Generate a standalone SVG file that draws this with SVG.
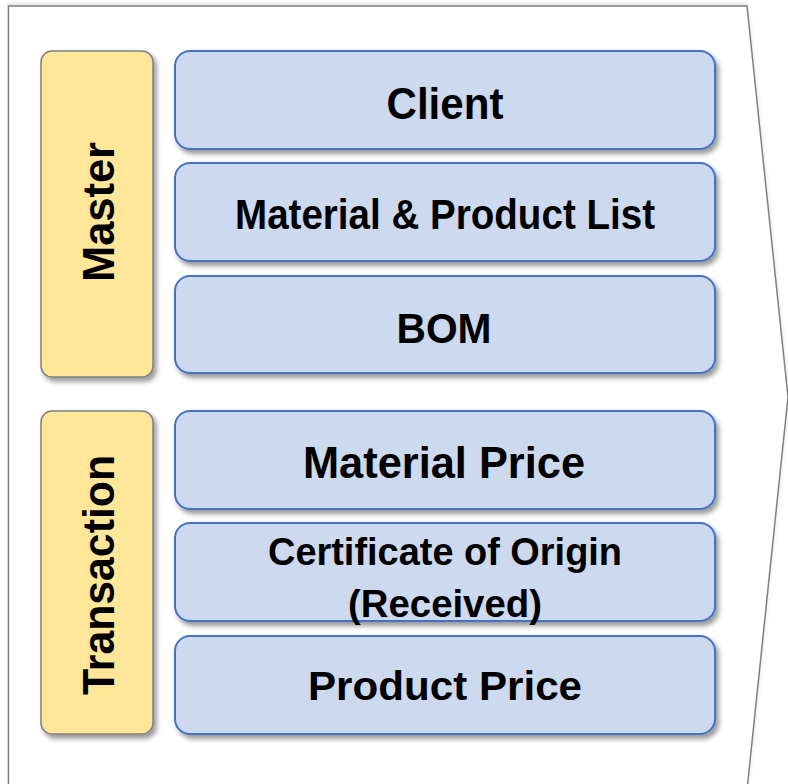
<svg xmlns="http://www.w3.org/2000/svg" width="788" height="784" viewBox="0 0 788 784">
  <defs>
    <filter id="shadow" x="-10%" y="-10%" width="130%" height="130%">
      <feDropShadow dx="3" dy="4" stdDeviation="2.5" flood-color="#000" flood-opacity="0.4"/>
    </filter>
    <filter id="softshadow" x="-5%" y="-5%" width="110%" height="110%">
      <feDropShadow dx="0" dy="-2" stdDeviation="2" flood-color="#000" flood-opacity="0.12"/>
    </filter>
    <style>
      .cat { fill: #FFE699; stroke: #7F7F7F; stroke-width: 1.5; filter: url(#shadow); }
      .item { fill: #CDD9EE; stroke: #4472C4; stroke-width: 2; filter: url(#shadow); }
      .big { font-family: "Liberation Sans", Arial, sans-serif; font-weight: bold; fill: #000; text-anchor: middle; }
      .frame { fill: #FFFFFF; stroke: #808080; stroke-width: 1.5; filter: url(#softshadow); }
    </style>
  </defs>

  <rect x="0" y="0" width="788" height="784" fill="#FFFFFF"/>

  <g id="frame">
    <path class="frame" d="M 8.5 6 L 747 6 L 788 397 L 747 790 L 8.5 790 Z"/>
  </g>

  <g id="master">
    <rect class="cat" x="41" y="51" width="112" height="326" rx="11" ry="11"/>
    <text class="big" font-size="44" transform="translate(114,212) rotate(-90)" textLength="140" lengthAdjust="spacingAndGlyphs">Master</text>
  </g>

  <g id="transaction">
    <rect class="cat" x="41" y="411" width="112" height="323" rx="11" ry="11"/>
    <text class="big" font-size="44" transform="translate(114,575) rotate(-90)" textLength="240" lengthAdjust="spacingAndGlyphs">Transaction</text>
  </g>

  <g id="client">
    <rect class="item" x="175" y="51" width="540" height="98" rx="15" ry="15"/>
    <text class="big" x="445" y="119" font-size="44" textLength="117" lengthAdjust="spacingAndGlyphs">Client</text>
  </g>

  <g id="material-product-list">
    <rect class="item" x="175" y="163" width="540" height="98" rx="15" ry="15"/>
    <text class="big" x="445" y="229" font-size="43" textLength="420" lengthAdjust="spacingAndGlyphs">Material &amp; Product List</text>
  </g>

  <g id="bom">
    <rect class="item" x="175" y="276" width="540" height="97" rx="15" ry="15"/>
    <text class="big" x="444" y="343" font-size="43" textLength="95" lengthAdjust="spacingAndGlyphs">BOM</text>
  </g>

  <g id="material-price">
    <rect class="item" x="175" y="411" width="540" height="98" rx="15" ry="15"/>
    <text class="big" x="444" y="478" font-size="45" textLength="282" lengthAdjust="spacingAndGlyphs">Material Price</text>
  </g>

  <g id="certificate-of-origin">
    <rect class="item" x="175" y="523" width="540" height="98" rx="15" ry="15"/>
    <text class="big" x="445" y="565" font-size="38" textLength="354" lengthAdjust="spacingAndGlyphs">Certificate of Origin</text>
    <text class="big" x="445" y="617" font-size="38" textLength="194" lengthAdjust="spacingAndGlyphs">(Received)</text>
  </g>

  <g id="product-price">
    <rect class="item" x="175" y="636" width="540" height="98" rx="15" ry="15"/>
    <text class="big" x="445" y="700" font-size="40" textLength="274" lengthAdjust="spacingAndGlyphs">Product Price</text>
  </g>

  <g id="connectors"></g>
</svg>
